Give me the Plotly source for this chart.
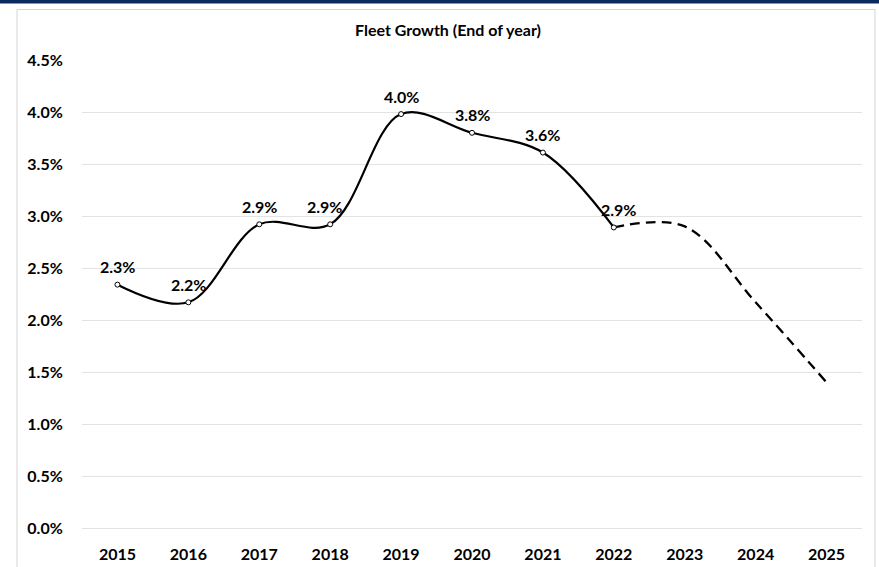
import plotly.graph_objects as go

years = ["2015", "2016", "2017", "2018", "2019", "2020", "2021", "2022", "2023", "2024", "2025"]
actual_years = years[:8]
actual_vals = [2.34, 2.17, 2.92, 2.92, 3.98, 3.80, 3.61, 2.89]
actual_labels = ["2.3%", "2.2%", "2.9%", "2.9%", "4.0%", "3.8%", "3.6%", "2.9%"]
label_dx = [0, 0, 0, -6, 0, 0, 0, 5]
forecast_years = years[7:]
forecast_vals = [2.89, 2.90, 2.17, 1.40]
y_ticks = [0.0, 0.5, 1.0, 1.5, 2.0, 2.5, 3.0, 3.5, 4.0, 4.5]
y_tick_text = ["0.0%", "0.5%", "1.0%", "1.5%", "2.0%", "2.5%", "3.0%", "3.5%", "4.0%", "4.5%"]
title = "Fleet Growth (End of year)"

FONT = "Lato"

fig = go.Figure()
fig.add_trace(go.Scatter(
    x=forecast_years, y=forecast_vals, mode="lines",
    line=dict(color="black", width=2.3, dash="10px,6px", shape="spline", smoothing=1.0),
    hoverinfo="skip", showlegend=False,
))
fig.add_trace(go.Scatter(
    x=actual_years, y=actual_vals, mode="lines+markers",
    line=dict(color="black", width=2.2, shape="spline", smoothing=1.0),
    marker=dict(symbol="circle", size=5, color="white", line=dict(color="black", width=1)),
    showlegend=False,
))

annotations = [
    dict(x=years.index(xv), y=yv, xref="x", yref="y", text=t, showarrow=False,
         xshift=dx, yshift=18, xanchor="center", yanchor="middle",
         font=dict(family=FONT, size=16, color="black", weight="bold"))
    for xv, yv, t, dx in zip(actual_years, actual_vals, actual_labels, label_dx)
]

L, R, T, B = 82, 17, 60, 39
W, H = 879, 567
pw, ph = W - L - R, H - T - B

def px_x(px):
    return (px - L) / pw

def px_y(py):
    return (H - B - py) / ph

shapes = [
    dict(type="rect", xref="paper", yref="paper",
         x0=px_x(17), x1=px_x(875), y0=px_y(600), y1=px_y(9.5),
         line=dict(color="#d4d4d4", width=1), fillcolor="rgba(0,0,0,0)", layer="below"),
    dict(type="rect", xref="paper", yref="paper",
         x0=px_x(-5), x1=px_x(884), y0=px_y(3.5), y1=px_y(-5),
         line=dict(width=0), fillcolor="#0b2a5c", layer="above"),
]

fig.update_layout(
    width=W, height=H,
    margin=dict(l=L, r=R, t=T, b=B, pad=0, autoexpand=False),
    paper_bgcolor="white", plot_bgcolor="white",
    font=dict(family=FONT, size=16, color="black"),
    title=dict(text=title, x=(448 - L) / pw, xref="paper", xanchor="center",
               y=1 - 30 / H, yref="container", yanchor="middle",
               font=dict(family=FONT, size=16, color="black", weight="bold")),
    shapes=shapes,
    annotations=annotations,
    xaxis=dict(
        type="category", categoryorder="array", categoryarray=years,
        range=[-0.5, len(years) - 0.5], automargin=False,
        showgrid=False, zeroline=False, showline=False,
        ticks="outside", ticklen=12, tickcolor="white",
        tickfont=dict(family=FONT, size=16, color="black", weight="bold"),
    ),
    yaxis=dict(
        range=[0, 4.5], tickvals=y_ticks, ticktext=y_tick_text, automargin=False,
        showgrid=True, gridcolor="#e3e3e3", gridwidth=1,
        zeroline=True, zerolinecolor="#e3e3e3", zerolinewidth=1,
        showline=False,
        ticks="outside", ticklen=15, tickcolor="white",
        tickfont=dict(family=FONT, size=16, color="black", weight="bold"),
    ),
)

fig.write_html("out.html", config={"displayModeBar": False},
               post_script="document.body.style.margin='0';document.body.style.padding='0';")
